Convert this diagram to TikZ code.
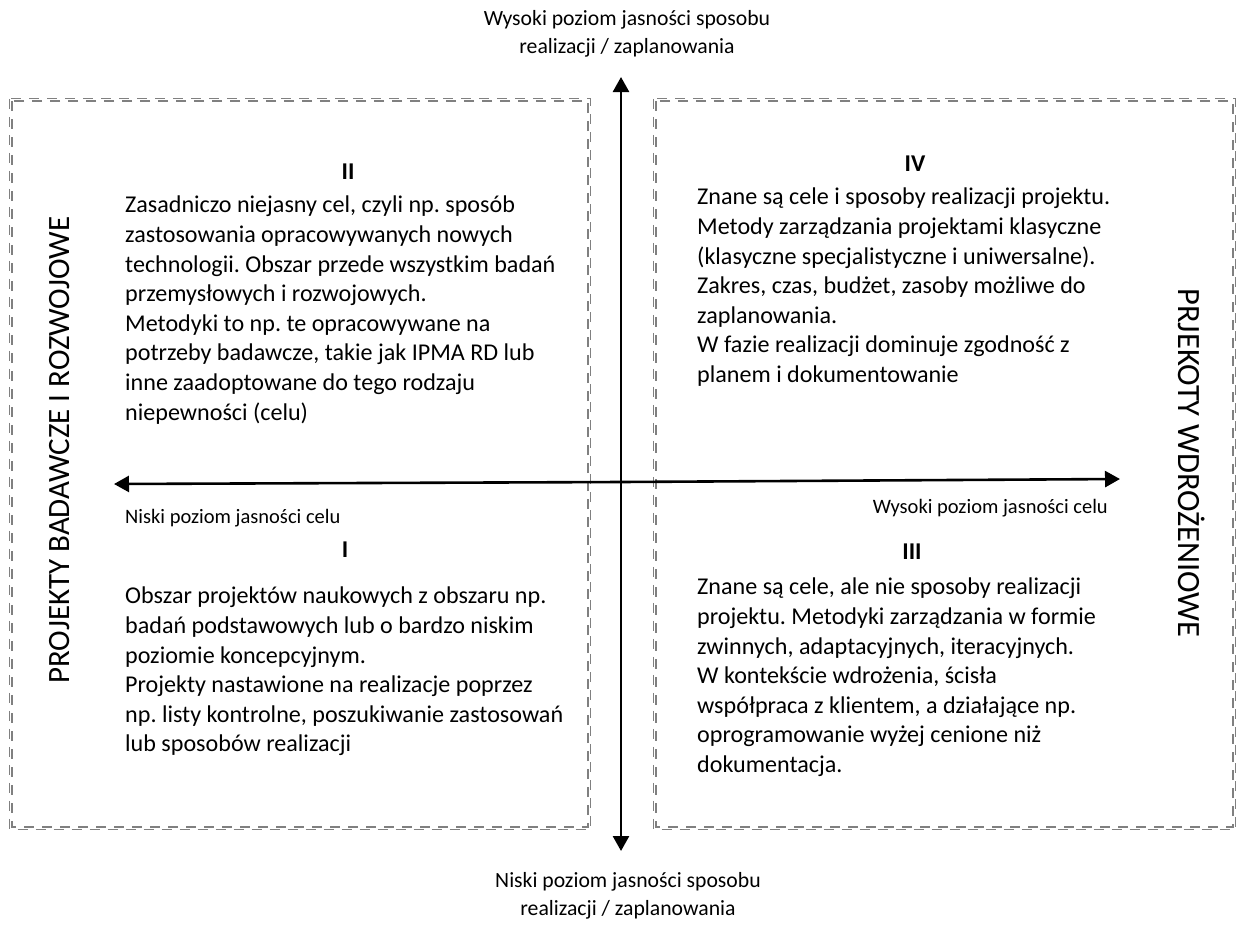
\documentclass[tikz,border=0pt]{standalone}
\usepackage{fontspec}
\setmainfont{Carlito}
\usetikzlibrary{arrows.meta}
\frenchspacing

\tikzset{
  frameline/.style={draw=black!50, line width=1.15pt, dash pattern=on 10pt off 8pt},
  axis/.style={line width=2.6pt, -{Triangle[width=16pt,length=15pt]}},
  body/.style={anchor=north west, inner sep=0pt, align=left,
               font=\fontsize{24.1}{29.6}\selectfont},
  title/.style={anchor=base, inner sep=0pt, font=\fontsize{24.1}{29.6}\selectfont\bfseries},
  axislabel/.style={inner sep=0pt, align=center, font=\fontsize{20.5}{28}\selectfont},
  endlabel/.style={inner sep=0pt, align=center, font=\fontsize{21.7}{28}\selectfont},
  sidelabel/.style={inner sep=0pt, font=\fontsize{31}{36}\selectfont}
}

\begin{document}
\begin{tikzpicture}[x=1pt,y=-1pt]
\useasboundingbox (0,0) rectangle (1236,926);

% dashed quadrant frames, drawn as two thin parallel dashed outlines
\foreach \d in {0,2.1} {
  \draw[frameline] (12-\d,101-\d) rectangle (588+\d,827+\d);
  \draw[frameline] (656-\d,101-\d) rectangle (1233+\d,827+\d);
}

% axis end points
\coordinate (vtop) at (621,77);
\coordinate (vbot) at (621,851);
\coordinate (hmid) at (621,482);
\coordinate (hleft) at (114,484);
\coordinate (hright) at (1120,479);

\draw[axis] (hmid) -- (vtop);
\draw[axis] (hmid) -- (vbot);
\draw[axis] (hmid) -- (hleft);
\draw[axis] (hmid) -- (hright);

% axis labels
\node[endlabel, anchor=north] (ytop) at (627,6)
  {\strut Wysoki poziom jasności sposobu\\realizacji / zaplanowania};
\node[endlabel, anchor=north] (ybot) at (628,868)
  {\strut Niski poziom jasności sposobu\\realizacji / zaplanowania};
\node[axislabel, anchor=base west] (xleft) at (125,523) {Niski poziom jasności celu};
\node[axislabel, anchor=base east] (xright) at (1108,513) {Wysoki poziom jasności celu};

% side captions
\node[sidelabel, rotate=90] (rd) at (60,450) {PROJEKTY BADAWCZE I ROZWOJOWE};
\node[sidelabel, font=\fontsize{32.5}{36}\selectfont, rotate=-90] (impl) at (1192,463) {PRJEKOTY WDROŻENIOWE};

% quadrant II
\node[title] (t2) at (348,179) {II};
\node[body] (q2) at (125,192) {\strut Zasadniczo niejasny cel, czyli np. sposób\\
zastosowania opracowywanych nowych\\
technologii. Obszar przede wszystkim badań\\
przemysłowych i rozwojowych.\\
Metodyki to np. te opracowywane na\\
potrzeby badawcze, takie jak IPMA RD lub\\
inne zaadoptowane do tego rodzaju\\
niepewności (celu)};

% quadrant IV
\node[title] (t4) at (915,171) {IV};
\node[body] (q4) at (697,184) {\strut Znane są cele i sposoby realizacji projektu.\\
Metody zarządzania projektami klasyczne\\
(klasyczne specjalistyczne i uniwersalne).\\
Zakres, czas, budżet, zasoby możliwe do\\
zaplanowania.\\
W fazie realizacji dominuje zgodność z\\
planem i dokumentowanie};

% quadrant I
\node[title] (t1) at (345,557) {I};
\node[body] (q1) at (125,583) {\strut Obszar projektów naukowych z obszaru np.\\
badań podstawowych lub o bardzo niskim\\
poziomie koncepcyjnym.\\
Projekty nastawione na realizacje poprzez\\
np. listy kontrolne, poszukiwanie zastosowań\\
lub sposobów realizacji};

% quadrant III
\node[title] (t3) at (912,559) {III};
\node[body] (q3) at (697,574) {\strut Znane są cele, ale nie sposoby realizacji\\
projektu. Metodyki zarządzania w formie\\
zwinnych, adaptacyjnych, iteracyjnych.\\
W kontekście wdrożenia, ścisła\\
współpraca z klientem, a działające np.\\
oprogramowanie wyżej cenione niż\\
dokumentacja.};
\end{tikzpicture}
\end{document}
